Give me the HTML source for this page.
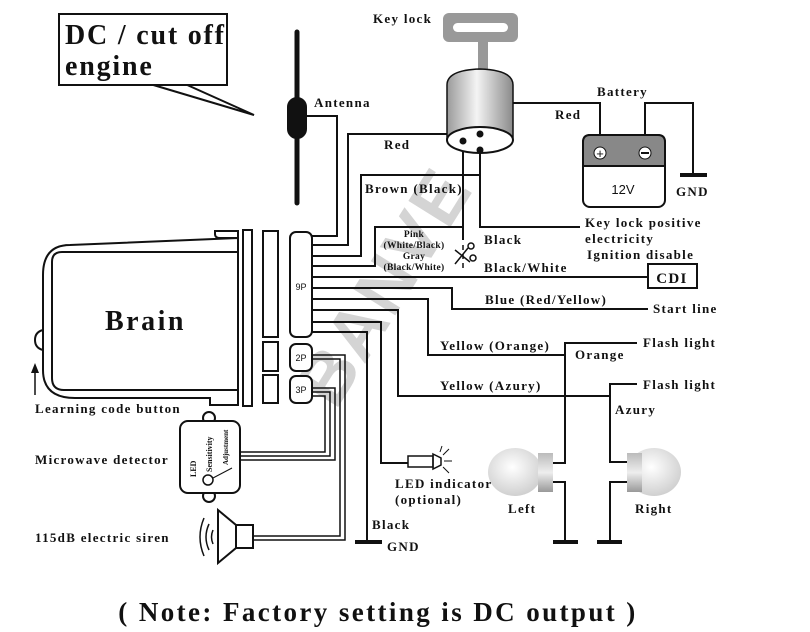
<!DOCTYPE html>
<html><head><meta charset="utf-8"><style>
html,body{margin:0;padding:0;background:#fff}
svg{display:block}
text{font-family:"Liberation Serif",serif;font-weight:bold;fill:#111;letter-spacing:1.3px}
.s{font-family:"Liberation Sans",sans-serif;font-weight:normal;letter-spacing:0}
</style></head><body>
<svg width="810" height="632" viewBox="0 0 810 632" xmlns="http://www.w3.org/2000/svg">
<defs>
<linearGradient id="cyl" x1="0" x2="1"><stop offset="0" stop-color="#9a9a9a"/><stop offset=".45" stop-color="#f4f4f4"/><stop offset="1" stop-color="#8a8a8a"/></linearGradient>
<radialGradient id="bulb" cx=".45" cy=".4" r=".6"><stop offset="0" stop-color="#fff"/><stop offset="1" stop-color="#d0d0d0"/></radialGradient>
<linearGradient id="cap" x1="0" y1="0" x2="0" y2="1"><stop offset="0" stop-color="#bbb"/><stop offset=".5" stop-color="#eee"/><stop offset="1" stop-color="#999"/></linearGradient>
</defs>
<!-- watermark -->
<text x="0" y="0" transform="translate(405,300) rotate(-58)" text-anchor="middle" style="font-family:'Liberation Sans',sans-serif;font-weight:bold;font-size:72px;fill:#d4d4d4;letter-spacing:2px">BANVE</text>

<g fill="none" stroke="#111" stroke-width="2">
<path d="M150 84 L254 115 L185 84"/>
<rect x="59" y="14" width="168" height="71" fill="#fff"/>
<line x1="297" y1="32" x2="297" y2="203" stroke-width="5" stroke-linecap="round"/>
<rect x="288" y="98" width="18" height="40" rx="9" fill="#111"/>
<path d="M306 116 H337 V236 H312"/>
<path d="M480 134 H348 V245 H312"/>
<path d="M480 175 H361 V256 H312"/>
<path d="M312 266 H375 V227 H463"/>
<line x1="463" y1="141" x2="463" y2="240"/>
<line x1="463" y1="245" x2="463" y2="272" stroke-dasharray="5,4" stroke-width="1.5"/>
<path d="M480 150 V227 H580"/>
<path d="M479 134 V103 H600 V150"/>
<path d="M645 150 V103 H693 V174"/>
<line x1="680" y1="175" x2="707" y2="175" stroke-width="4"/>
<line x1="312" y1="277" x2="648" y2="277"/>
<rect x="648" y="264" width="49" height="24"/>
<path d="M312 288 H452 V309 H648"/>
<path d="M312 299 H428 V355 H565"/>
<path d="M637 343 H565 V463 H553"/>
<path d="M553 482 H565 V541"/>
<line x1="553" y1="542" x2="578" y2="542" stroke-width="4"/>
<path d="M312 310 H398 V396 H610"/>
<path d="M637 384 H610 V462 H627"/>
<path d="M627 482 H610 V541"/>
<line x1="597" y1="542" x2="622" y2="542" stroke-width="4"/>
<path d="M312 322 H381 V463 H408"/>
<path d="M312 332 H367 V541"/>
<line x1="355" y1="542" x2="382" y2="542" stroke-width="4"/>
<path d="M312 355 H345 V540 H253" stroke-width="1.5"/>
<path d="M312 359 H340 V536 H253" stroke-width="1.5"/>
<path d="M312 388 H335 V460 H240" stroke-width="1.5"/>
<path d="M312 392 H330 V456 H240" stroke-width="1.5"/>
<path d="M312 396 H325 V452 H240" stroke-width="1.5"/>
<path d="M238 238 H220 Q215 238 215 234 V231 H238 V405 H210 V398 H75 Q43 398 43 370 V275 Q43 245 70 245 L238 238"/>
<path d="M237 252 H62 Q52 252 52 262 V378 Q52 390 64 390 H237"/>
<rect x="243" y="230" width="9" height="176"/>
<path d="M43 330 Q35 332 35 340 Q35 348 43 350"/>
<line x1="35" y1="395" x2="35" y2="370" stroke-width="1.5"/>
<rect x="263" y="231" width="15" height="106"/>
<rect x="263" y="342" width="15" height="29"/>
<rect x="263" y="375" width="15" height="28"/>
<rect x="290" y="232" width="22" height="105" rx="6" fill="#fff"/>
<rect x="290" y="344" width="22" height="27" rx="6" fill="#fff"/>
<rect x="290" y="376" width="22" height="27" rx="6" fill="#fff"/>
<rect x="583" y="135" width="82" height="72" rx="7" fill="#fff"/>
<path d="M583 166 V142 Q583 135 590 135 H658 Q665 135 665 142 V166 Z" fill="#888"/>
<circle cx="209" cy="418" r="6" fill="#fff"/>
<circle cx="209" cy="496" r="6" fill="#fff"/>
<rect x="180" y="421" width="60" height="72" rx="8" fill="#fff"/>
<circle cx="208" cy="480" r="5" stroke-width="1.5"/>
<line x1="213" y1="478" x2="232" y2="468" stroke-width="1"/>
<path d="M218 510 L236 525 V548 L218 563 Z" fill="#fff"/>
<rect x="236" y="525" width="17" height="23" fill="#fff"/>
<path d="M204 518 Q196 537 204 556 M209 524 Q203 537 209 550 M213 530 Q210 537 213 544" stroke-width="1.5"/>
<rect x="408" y="456" width="25" height="11" stroke-width="1.5"/>
<path d="M433 454 L441 458 V465 L433 469 Z" stroke-width="1.5"/>
<path d="M444 461 H452 M443 455 L449 449 M443 467 L449 473 M440 452 L442 446" stroke-width="1"/>
</g>
<path d="M35 363 L31 373 H39 Z" fill="#111"/>
<rect x="443" y="13" width="75" height="29" rx="6" fill="#999"/>
<rect x="453" y="23" width="55" height="9" rx="4.5" fill="#fff"/>
<rect x="478" y="40" width="10" height="30" fill="#999"/>
<path d="M447 85 Q447 70 480 69 Q513 70 513 85 V140 H447 Z" fill="url(#cyl)" stroke="#111" stroke-width="1.5"/>
<ellipse cx="480" cy="140" rx="33" ry="13" fill="#fff" stroke="#111" stroke-width="2"/>
<circle cx="480" cy="134" r="3.5" fill="#111"/><circle cx="463" cy="141" r="3.5" fill="#111"/><circle cx="480" cy="150" r="3.5" fill="#111"/>
<circle cx="600" cy="153" r="6" fill="#fff" stroke="#111"/><text x="600" y="158" text-anchor="middle" class="s" font-size="13">+</text>
<circle cx="645" cy="153" r="6" fill="#fff" stroke="#111"/><line x1="641" y1="153" x2="649" y2="153" stroke="#111" stroke-width="2"/>
<ellipse cx="515" cy="472" rx="27" ry="24" fill="url(#bulb)"/>
<rect x="538" y="453" width="15" height="39" fill="url(#cap)"/>
<ellipse cx="654" cy="472" rx="27" ry="24" fill="url(#bulb)"/>
<rect x="627" y="453" width="15" height="39" fill="url(#cap)"/>
<g stroke="#111" stroke-width="1.5" fill="none"><path d="M455 250 L470 262 M455 264 L468 248"/><circle cx="471" cy="246" r="3"/><circle cx="473" cy="258" r="3"/></g>

<text x="65" y="44" font-size="28" style="letter-spacing:1.8px">DC / cut off</text>
<text x="65" y="75" font-size="28" style="letter-spacing:1.8px">engine</text>
<text x="314" y="107" font-size="13">Antenna</text>
<text x="373" y="23" font-size="13">Key lock</text>
<text x="384" y="149" font-size="13">Red</text>
<text x="555" y="119" font-size="13">Red</text>
<text x="597" y="96" font-size="13">Battery</text>
<text x="623" y="194" text-anchor="middle" class="s" font-size="13">12V</text>
<text x="676" y="196" font-size="13">GND</text>
<text x="365" y="193" font-size="13">Brown (Black)</text>
<text x="414" y="237" font-size="9.5" text-anchor="middle" style="letter-spacing:0.3px">Pink</text>
<text x="414" y="248" font-size="9.5" text-anchor="middle" style="letter-spacing:0.3px">(White/Black)</text>
<text x="414" y="259" font-size="9.5" text-anchor="middle" style="letter-spacing:0.3px">Gray</text>
<text x="414" y="270" font-size="9.5" text-anchor="middle" style="letter-spacing:0.3px">(Black/White)</text>
<text x="484" y="244" font-size="13">Black</text>
<text x="484" y="272" font-size="13">Black/White</text>
<text x="585" y="227" font-size="13">Key lock positive</text>
<text x="585" y="243" font-size="13">electricity</text>
<text x="587" y="259" font-size="13">Ignition disable</text>
<text x="672" y="283" font-size="15" text-anchor="middle">CDI</text>
<text x="485" y="304" font-size="13">Blue (Red/Yellow)</text>
<text x="653" y="313" font-size="13">Start line</text>
<text x="440" y="350" font-size="13">Yellow (Orange)</text>
<text x="440" y="390" font-size="13">Yellow (Azury)</text>
<text x="643" y="347" font-size="13">Flash light</text>
<text x="575" y="359" font-size="13">Orange</text>
<text x="643" y="389" font-size="13">Flash light</text>
<text x="615" y="414" font-size="13">Azury</text>
<text x="508" y="513" font-size="13">Left</text>
<text x="635" y="513" font-size="13">Right</text>
<text x="301" y="290" class="s" font-size="9" text-anchor="middle">9P</text>
<text x="301" y="361" class="s" font-size="9" text-anchor="middle">2P</text>
<text x="301" y="393" class="s" font-size="9" text-anchor="middle">3P</text>
<text x="105" y="330" font-size="28" style="letter-spacing:2.5px">Brain</text>
<text x="35" y="413" font-size="13">Learning code button</text>
<text x="35" y="464" font-size="13">Microwave detector</text>
<text x="35" y="542" font-size="13">115dB electric siren</text>
<text x="395" y="488" font-size="13">LED indicator</text>
<text x="395" y="504" font-size="13">(optional)</text>
<text x="372" y="529" font-size="13">Black</text>
<text x="387" y="551" font-size="13">GND</text>
<text transform="translate(196,477) rotate(-90)" font-size="8" style="letter-spacing:0">LED</text>
<text transform="translate(212,472) rotate(-90)" font-size="8" style="letter-spacing:0">Sensitivity</text>
<text transform="translate(228,465) rotate(-90)" font-size="7" style="letter-spacing:0">Adjustment</text>
<text x="378" y="621" font-size="27" text-anchor="middle" style="letter-spacing:2.4px">( Note: Factory setting is DC output )</text>
</svg>
</body></html>
